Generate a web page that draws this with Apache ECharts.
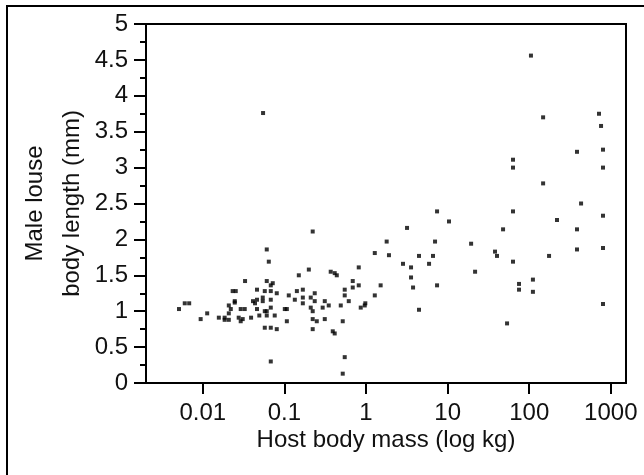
<!DOCTYPE html>
<html>
<head>
<meta charset="utf-8">
<script src="https://cdn.jsdelivr.net/npm/echarts@6/dist/echarts.min.js"></script>
<style>html,body{margin:0;padding:0;background:#fff}#c{width:644px;height:475px}</style>
</head>
<body>
<div id="c"></div>
<script>
// Host body mass (kg)
const mass = [
  0.0051,0.0060,0.0068,0.0094,0.0113,0.0157,0.0185,0.0185,0.0208,
  0.0208,0.0220,0.0208,0.0246,0.0246,0.0232,0.0253,0.0275,0.0308,0.0291,0.0291,0.0326,0.0329,0.0390,0.0412,0.0436,0.0461,0.0461,0.0461,0.0492,
  0.0542,0.0542,0.0547,0.0574,0.0574,0.0607,0.0607,0.0574,0.0680,0.0607,0.0643,0.0607,0.0680,0.0719,0.0680,0.0680,0.0680,0.0680,0.0760,0.0805,0.0805,
  0.101,0.107,0.107,0.113,0.134,0.142,0.150,0.168,0.168,0.168,0.199,0.210,0.210,0.222,0.222,0.235,0.235,0.222,0.249,0.222,
  0.294,0.312,0.312,0.349,0.369,0.413,0.438,0.391,0.413,0.490,0.518,0.548,0.548,0.548,0.518,0.614,0.687,0.687,0.814,0.814,0.861,0.964,0.98,
  1.28,1.28,1.51,1.79,1.91,
  148,432,7.42,63.3,10.4,802,219,3.18,47.8,385,7.01,19.4,385,802,38.1,40.3,4.46,6.62,175,2.84,3.56,5.92,63.3,21.7,3.56,3.77,7.42,75.0,75.0,111,111,4.46,53.5,802,
  105,716,148,759,385,802,63.3,63.3,802
];
// Male louse body length (mm)
const length = [
  1.03,1.11,1.11,0.89,0.97,0.91,0.91,0.88,0.88,
  1.08,1.03,0.97,1.12,1.14,1.28,1.28,0.91,0.89,0.86,1.03,1.03,1.42,0.91,1.14,1.11,1.30,1.16,1.03,0.94,
  1.19,1.14,3.76,1.28,1.00,1.00,0.94,0.77,0.77,1.86,1.69,1.42,1.36,1.39,1.28,1.16,1.05,0.30,0.94,1.25,0.75,
  1.03,1.03,0.86,1.22,1.16,1.28,1.50,1.30,1.19,1.11,1.58,1.19,1.05,2.11,1.00,1.25,1.14,0.89,0.86,0.75,
  1.05,1.14,0.89,1.08,1.55,1.53,1.50,0.72,0.69,1.08,0.86,1.30,1.22,0.36,0.13,1.14,1.42,1.33,1.61,1.36,1.05,1.08,1.11,
  1.81,1.22,1.36,1.97,1.78,
  2.78,2.50,2.39,2.39,2.25,2.33,2.27,2.16,2.14,2.14,1.97,1.94,1.86,1.88,1.83,1.77,1.77,1.77,1.77,1.66,1.61,1.66,1.69,1.55,1.47,1.33,1.36,1.38,1.30,1.44,1.27,1.02,0.83,1.10,
  4.56,3.75,3.70,3.58,3.22,3.25,3.11,3.00,3.00
];
const xTicks = [0.01, 0.1, 1, 10, 100, 1000];
const xTitle = 'Host body mass (log kg)';
const yTitle = 'Male louse\nbody length (mm)';

const points = mass.map((m, i) => [m, length[i]]);
const font = '"Liberation Sans", Arial, sans-serif';

const chart = echarts.init(document.getElementById('c'), null, {renderer: 'canvas'});
chart.setOption({
  animation: false,
  backgroundColor: '#fff',
  graphic: [{
    type: 'rect', silent: true, z: 100,
    shape: {x: 7, y: 6, width: 700, height: 600},
    style: {fill: 'none', stroke: '#000', lineWidth: 2}
  }],
  grid: {left: 146, right: 18, top: 24, bottom: 92, show: true, borderColor: '#000', borderWidth: 2, containLabel: false},
  xAxis: {
    type: 'log', logBase: 10, min: 0.00201, max: 1535,
    name: xTitle, nameLocation: 'middle', nameGap: 45, nameMoveOverlap: false,
    nameTextStyle: {fontSize: 24, color: '#111', fontFamily: font},
    axisLine: {show: true, lineStyle: {color: '#000', width: 2}},
    axisTick: {show: true, length: 11, lineStyle: {color: '#000', width: 2}, customValues: xTicks},
    axisLabel: {fontSize: 24, color: '#111', fontFamily: font, margin: 18, customValues: xTicks,
      formatter: v => String(+v.toPrecision(6))},
    splitLine: {show: false}, minorTick: {show: false}
  },
  yAxis: {
    type: 'value', min: 0, max: 5, interval: 0.5,
    name: yTitle, nameLocation: 'middle', nameGap: 55, nameMoveOverlap: false,
    nameTextStyle: {fontSize: 24, color: '#111', fontFamily: font, lineHeight: 37, align: 'center'},
    axisLine: {show: true, lineStyle: {color: '#000', width: 2}},
    axisTick: {show: true, length: 12, lineStyle: {color: '#000', width: 2}},
    minorTick: {show: true, splitNumber: 2, length: 6, lineStyle: {color: '#000', width: 2}},
    axisLabel: {fontSize: 24, color: '#111', fontFamily: font, margin: 18},
    splitLine: {show: false}
  },
  series: [{
    type: 'scatter', data: points, symbol: 'rect', symbolSize: 4,
    itemStyle: {color: '#000'}
  }]
});
</script>
</body>
</html>
